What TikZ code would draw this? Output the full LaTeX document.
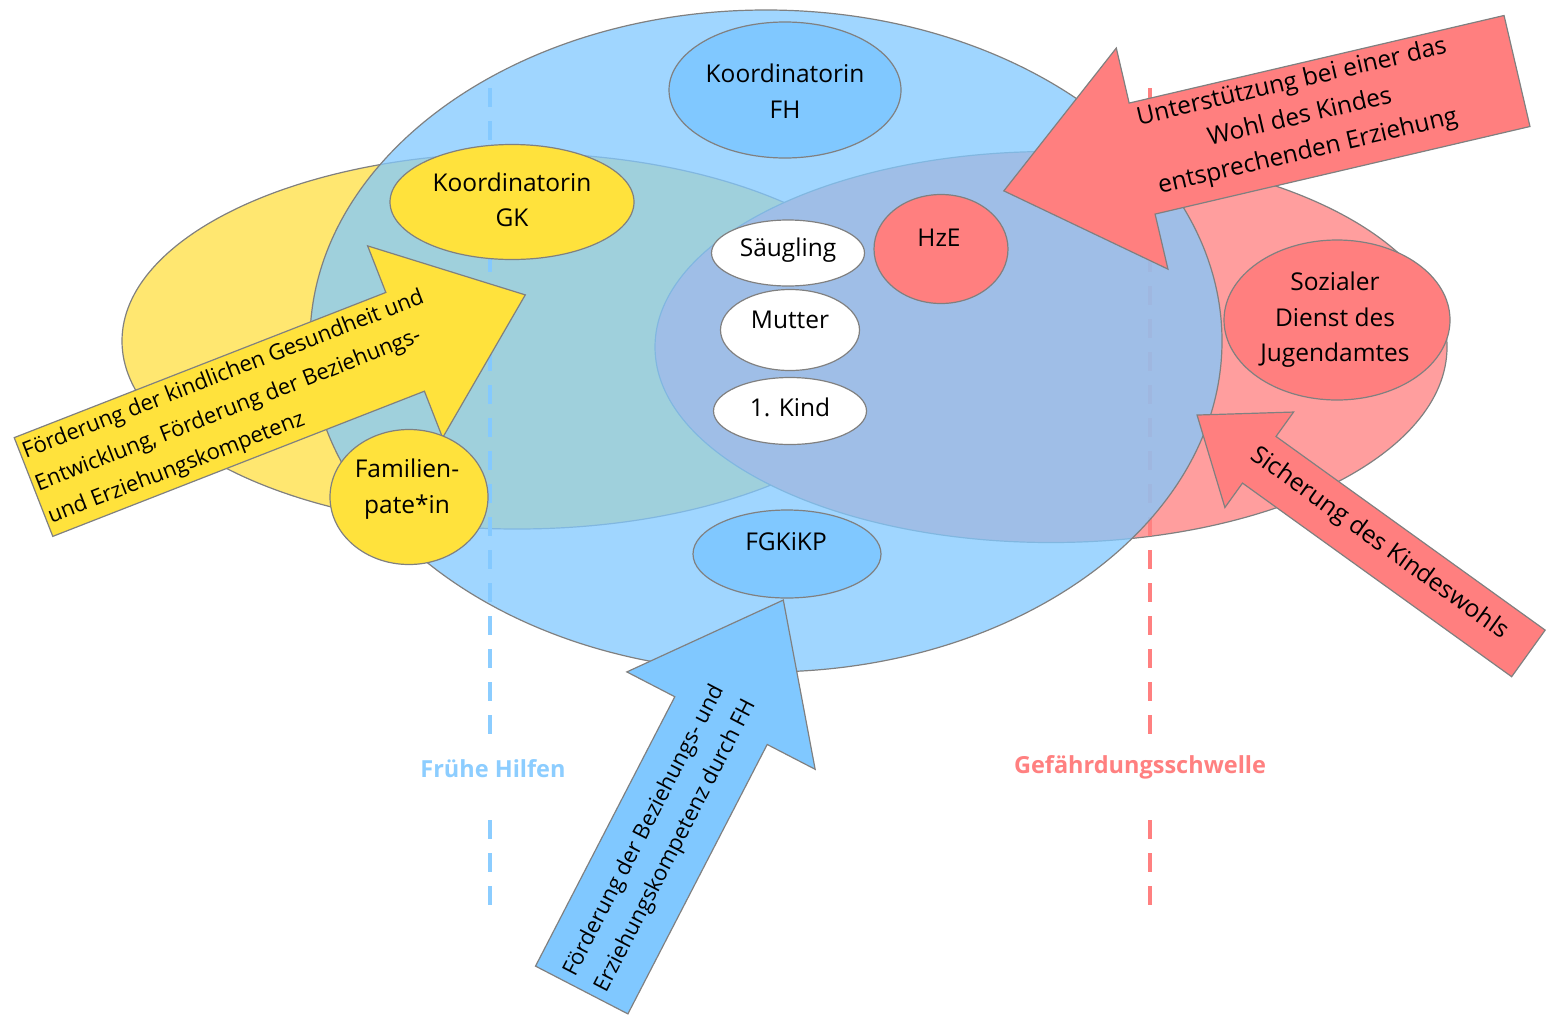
\documentclass[tikz,border=0pt]{standalone}
\usepackage{fontspec}
\setmainfont{Open Sans}
\usetikzlibrary{shapes.geometric}
\definecolor{bigblue}{RGB}{130,201,255}
\definecolor{bigyellow}{RGB}{255,231,112}
\definecolor{bigred}{RGB}{255,158,158}
\definecolor{nodeblue}{RGB}{128,200,255}
\definecolor{nodeyellow}{RGB}{255,226,60}
\definecolor{nodered}{RGB}{255,127,127}
\definecolor{edgegray}{RGB}{128,128,128}
\definecolor{dashblue}{RGB}{140,205,255}
\definecolor{dashred}{RGB}{255,128,128}
\begin{document}
\begin{tikzpicture}[x=1pt,y=-1pt,
  region/.style={ellipse, draw=edgegray, line width=1.2pt, inner sep=0pt},
  bubble/.style={ellipse, draw=edgegray, line width=1.2pt, inner sep=0pt},
  txt/.style={align=center, font=\fontsize{24.5}{35.5}\selectfont, inner sep=0pt},
  arrowtxt/.style={font=\fontsize{22}{35}\selectfont, inner sep=0pt},
  redarrowtxt/.style={font=\fontsize{24.5}{35.5}\selectfont, inner sep=0pt},
  bigarrow/.style={draw=edgegray, line width=1.2pt, line join=miter},
  threshold/.style={line width=4pt, dash pattern=on 19pt off 14pt},
  thlabel/.style={font=\fontsize{23.5}{28}\selectfont\bfseries, inner sep=0pt}
]
\useasboundingbox (0,0) rectangle (1546,1015);

% large regions
\node[region, fill=bigyellow, minimum width=790pt, minimum height=376pt] (gkregion) at (517,341) {};
\node[region, fill=bigred, minimum width=792pt, minimum height=391pt] (jaregion) at (1051,347) {};

% threshold lines
\coordinate (fhtop) at (490,88);
\coordinate (fhmid1) at (490,742);
\coordinate (fhmid2) at (490,820);
\coordinate (fhbot) at (490,907);
\coordinate (gstop) at (1150,88);
\coordinate (gsmid1) at (1150,742);
\coordinate (gsmid2) at (1150,820);
\coordinate (gsbot) at (1150,907);
\draw[threshold, dashblue] (fhtop) -- (fhmid1);
\draw[threshold, dashblue] (fhmid2) -- (fhbot);
\draw[threshold, dashred] (gstop) -- (gsmid1);
\draw[threshold, dashred] (gsmid2) -- (gsbot);
\node[thlabel, text=dashblue] (fhlabel) at (493,769) {Frühe Hilfen};
\node[thlabel, text=dashred] (gslabel) at (1140,767) {Gefährdungsschwelle};

\node[region, fill=bigblue, fill opacity=0.76, minimum width=912pt, minimum height=662pt] (fhregion) at (766,341) {};

% block arrows
\begin{scope}[shift={(33.5,487)}, rotate=21.34]
  \draw[bigarrow, fill=nodeyellow] (0pt,53pt) -- (399pt,53pt) -- (399pt,103pt) -- (528pt,0pt)
    -- (399pt,-103pt) -- (399pt,-53pt) -- (0pt,-53pt) -- cycle;
  \node[arrowtxt, anchor=west, align=left, rotate=21.34] (gktext) at (3pt,0pt)
    {Förderung der kindlichen Gesundheit und\\Entwicklung, Förderung der Beziehungs-\\und Erziehungskompetenz};
\end{scope}

\begin{scope}[shift={(1517,71)}, rotate=193.15]
  \draw[bigarrow, fill=nodered] (0pt,57pt) -- (385pt,57pt) -- (385pt,113.5pt) -- (527pt,0pt)
    -- (385pt,-113.5pt) -- (385pt,-57pt) -- (0pt,-57pt) -- cycle;
  \node[redarrowtxt, align=center, rotate=13.15] (hzetext) at (222pt,-4pt)
    {Unterstützung bei einer das\\Wohl des Kindes\\entsprechenden Erziehung};
\end{scope}

\begin{scope}[shift={(1528.4,653.4)}, rotate=144.27]
  \draw[bigarrow, fill=nodered] (0pt,28.7pt) -- (331.6pt,28.7pt) -- (331.6pt,58.8pt) -- (408.2pt,0pt)
    -- (331.6pt,-58.8pt) -- (331.6pt,-28.7pt) -- (0pt,-28.7pt) -- cycle;
  \node[redarrowtxt, rotate=-35.73] (kwtext) at (185pt,-2pt) {Sicherung des Kindeswohls};
\end{scope}

\begin{scope}[shift={(581.7,990)}, rotate=62.66]
  \draw[bigarrow, fill=nodeblue] (0pt,52pt) -- (303.3pt,52pt) -- (303.3pt,106pt) -- (439pt,0pt)
    -- (303.3pt,-106pt) -- (303.3pt,-52pt) -- (0pt,-52pt) -- cycle;
  \node[arrowtxt, anchor=west, align=left, rotate=62.66] (fgtext) at (8pt,0pt)
    {Förderung der Beziehungs- und\\Erziehungskompetenz durch FH};
\end{scope}

% bubbles
\node[bubble, fill=nodeblue, minimum width=232pt, minimum height=136pt] (kfh) at (785,90) {};
\node[txt] at (785,91) {Koordinatorin\\FH};
\node[bubble, fill=nodeyellow, minimum width=244pt, minimum height=115pt] (kgk) at (512,202) {};
\node[txt] at (512,200) {Koordinatorin\\GK};
\node[bubble, fill=white, minimum width=153pt, minimum height=66pt] (saeugling) at (788,253) {};
\node[txt] at (788,250) {Säugling};
\node[bubble, fill=white, minimum width=139pt, minimum height=81pt] (mutter) at (790,330) {};
\node[txt] at (790,320) {Mutter};
\node[bubble, fill=white, minimum width=153pt, minimum height=67pt] (kind) at (790,411) {};
\node[txt] at (790,407) {1. Kind};
\node[bubble, fill=nodered, minimum width=134pt, minimum height=109pt] (hze) at (941,249) {};
\node[txt] at (939,238) {HzE};
\node[bubble, fill=nodered, minimum width=226pt, minimum height=160pt] (sdj) at (1337,320) {};
\node[txt] at (1335,320) {Sozialer\\Dienst des\\Jugendamtes};
\node[bubble, fill=nodeyellow, minimum width=158pt, minimum height=135pt] (fp) at (409,497) {};
\node[txt] at (407,489) {Familien-\\pate*in};
\node[bubble, fill=nodeblue, minimum width=188pt, minimum height=88pt] (fgkikp) at (787,554) {};
\node[txt] at (786,542) {FGKiKP};
\end{tikzpicture}
\end{document}
